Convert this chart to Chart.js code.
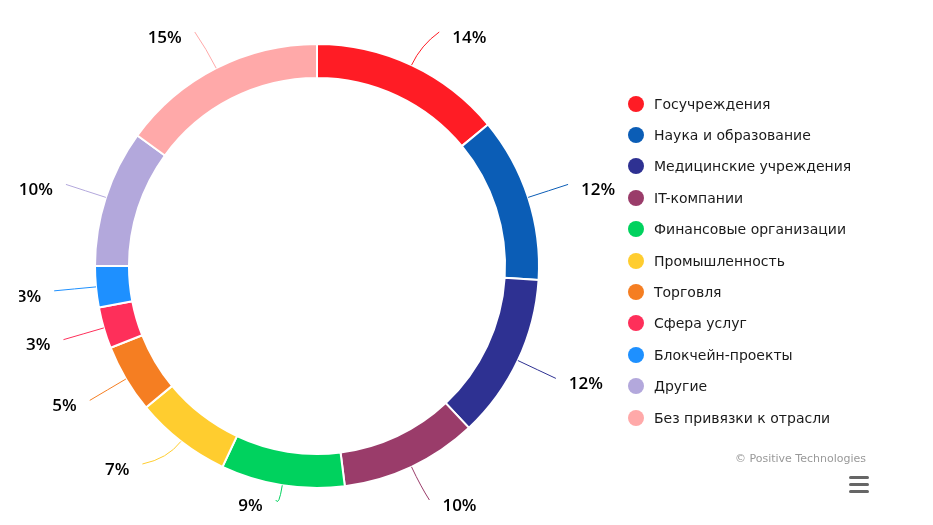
<!DOCTYPE html>
<html>
<head>
<meta charset="utf-8">
<script src="https://cdn.jsdelivr.net/npm/chart.js@4/dist/chart.umd.min.js"></script>
<style>
    html, body { margin: 0; padding: 0; background: #fff; }
    #wrap { position: relative; width: 933px; height: 525px; overflow: hidden; }
    #chart { position: absolute; left: 0; top: 0; }
    #legend { position: absolute; left: 628px; top: 88px; margin: 0; padding: 0; list-style: none;
              font: 14px "DejaVu Sans", sans-serif; color: #1a1a1a; }
    #legend li { height: 31.4px; display: flex; align-items: center; white-space: nowrap; }
    #legend .dot { width: 16px; height: 16px; border-radius: 50%; margin-right: 10px; flex: none; }
    #credits { position: absolute; right: 67px; top: 452px; font: 11px "DejaVu Sans", sans-serif; color: #999; }
    #menu { position: absolute; left: 849px; top: 476px; width: 20px; }
    #menu span { display: block; height: 3px; margin-bottom: 4px; background: #666; border-radius: 2px; }
</style>
</head>
<body>
<div id="wrap">
    <canvas id="chart" width="933" height="525"></canvas>
    <ul id="legend"></ul>
    <div id="credits">© Positive Technologies</div>
    <div id="menu"><span></span><span></span><span></span></div>
</div>
<script>
const categories = [
    'Госучреждения',
    'Наука и образование',
    'Медицинские учреждения',
    'IT-компании',
    'Финансовые организации',
    'Промышленность',
    'Торговля',
    'Сфера услуг',
    'Блокчейн-проекты',
    'Другие',
    'Без привязки к отрасли',
];
const shares = [14, 12, 12, 10, 9, 7, 5, 3, 3, 10, 15];
const colors = [
    '#ff1c25', '#0b5db6', '#2e3192', '#9a3c6a', '#00d25e', '#ffcd2f',
    '#f57e22', '#fe2f5a', '#1e90ff', '#b3a8dc', '#ffa9a9',
];

// legend as plain html, built from the same arrays
const legendEl = document.getElementById('legend');
categories.forEach((name, i) => {
    const li = document.createElement('li');
    li.innerHTML = `<span class="dot" style="background:${colors[i]}"></span>${name}`;
    legendEl.appendChild(li);
});

// outside labels with soft connectors
const outerLabels = {
    id: 'outerLabels',
    afterDatasetsDraw(chart) {
        const ctx  = chart.ctx;
        const meta = chart.getDatasetMeta(0);
        const minY = 32, maxY = 500, gap = 36;

        const onCircle = it => {
            const dy = it.y - it.arc.y;
            const dx = Math.sqrt(Math.max(it.R * it.R - dy * dy, 0));
            it.x = it.arc.x + (it.left ? -dx : dx);
        };

        const items = meta.data.map((arc, i) => {
            const mid = (arc.startAngle + arc.endAngle) / 2;
            const R   = arc.outerRadius + 42;
            const it  = {
                i, arc, mid, R,
                left: Math.cos(mid) < 0,
                x: arc.x + Math.cos(mid) * R,
                y: arc.y + Math.sin(mid) * R,
            };
            if (it.y > maxY) it.y = maxY;
            if (it.y < minY) { it.y = minY; onCircle(it); }
            return it;
        });

        // simple collision push, bottom-up per side
        [true, false].forEach(side => {
            const list = items.filter(it => it.left === side).sort((a, b) => b.y - a.y);
            for (let k = 1; k < list.length; k++) {
                if (list[k - 1].y - list[k].y < gap) {
                    list[k].y = list[k - 1].y - gap;
                    onCircle(list[k]);
                }
            }
        });

        ctx.save();
        ctx.beginPath();
        ctx.rect(19, 0, chart.width, chart.height);
        ctx.clip();
        items.forEach(it => {
            const a  = it.arc;
            const sx = a.x + Math.cos(it.mid) * a.outerRadius;
            const sy = a.y + Math.sin(it.mid) * a.outerRadius;
            const cx = a.x + Math.cos(it.mid) * (a.outerRadius + 22);
            const cy = a.y + Math.sin(it.mid) * (a.outerRadius + 22);
            ctx.strokeStyle = colors[it.i];
            ctx.lineWidth = 1;
            ctx.beginPath();
            ctx.moveTo(sx, sy);
            ctx.quadraticCurveTo(cx, cy, it.x, it.y);
            ctx.stroke();

            ctx.fillStyle = '#000';
            ctx.font = '600 17px "Open Sans", sans-serif';
            ctx.textBaseline = 'middle';
            ctx.textAlign = it.left ? 'right' : 'left';
            ctx.fillText(shares[it.i] + '%', it.x + (it.left ? -13 : 13), it.y + 6);
        });
        ctx.restore();
    },
};

new Chart(document.getElementById('chart'), {
    type: 'doughnut',
    data: {
        labels: categories,
        datasets: [{
            data: shares,
            backgroundColor: colors,
            borderColor: '#ffffff',
            borderWidth: 2,
            radius: 222,
            cutout: '84.7%',
        }],
    },
    options: {
        responsive: false,
        animation: false,
        layout: { padding: { left: 0, right: 299, top: 7, bottom: 0 } },
        plugins: {
            legend: { display: false },
            tooltip: { enabled: false },
        },
    },
    plugins: [outerLabels],
});
</script>
</body>
</html>
